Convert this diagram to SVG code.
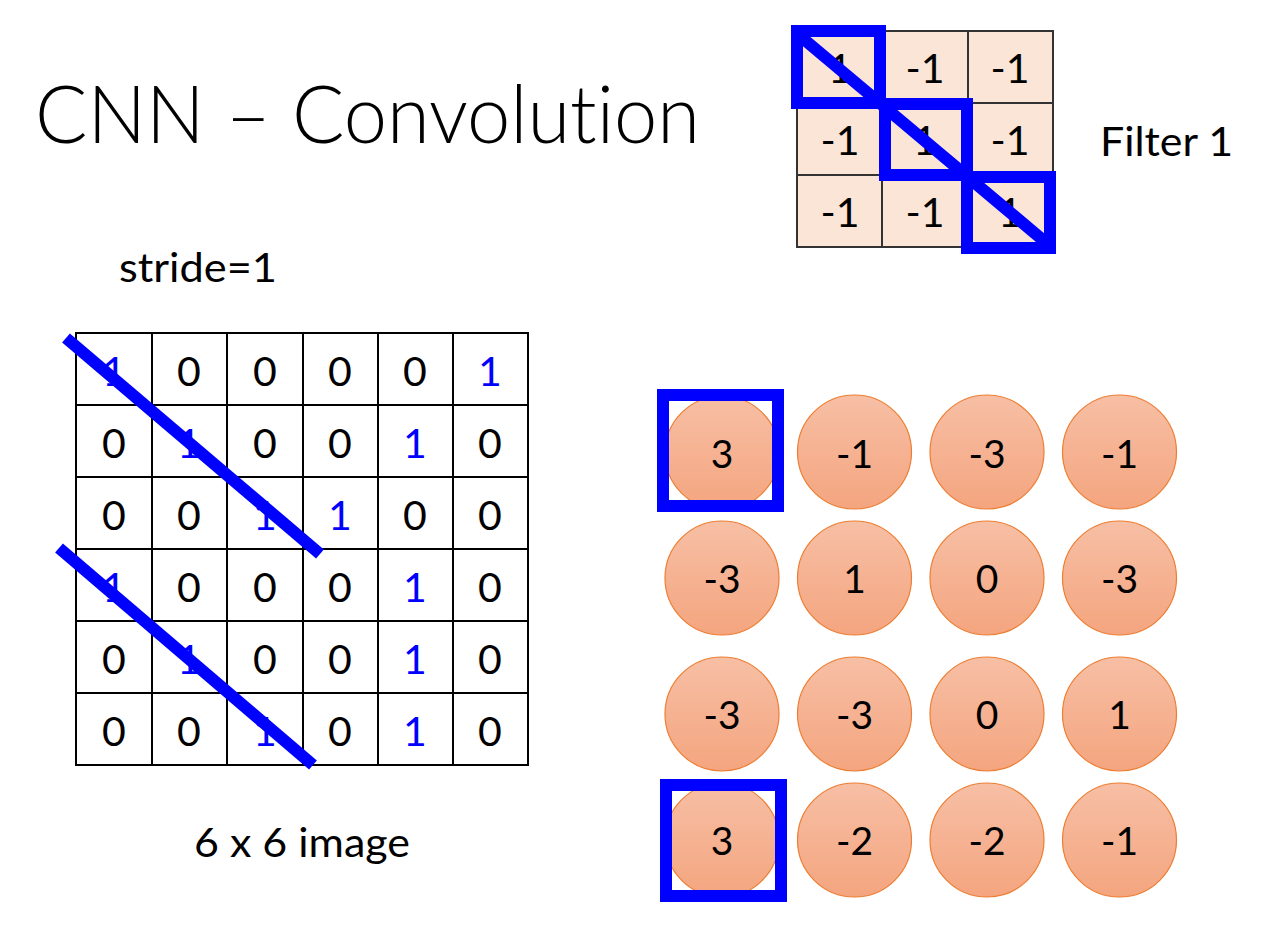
<svg xmlns="http://www.w3.org/2000/svg" width="1272" height="936" viewBox="0 0 1272 936">
<defs>
<linearGradient id="cg" x1="0" y1="0" x2="0" y2="1">
<stop offset="0" stop-color="#F7BFA5"/>
<stop offset="1" stop-color="#F4A57F"/>
</linearGradient>
</defs>
<style>
text{font-family:Lato,"Liberation Sans",sans-serif;text-anchor:middle;fill:#000;font-variant-ligatures:none;font-feature-settings:"liga" 0}
.title{font-weight:300;font-size:80px;text-anchor:start}
.lbl{font-size:41px;text-anchor:start}
.n{font-size:41px}
.b{fill:#0000FF}
.c{font-size:39px}
.cell{stroke:#000;stroke-width:2;fill:#fff}
.fcell{stroke:#333;stroke-width:2;fill:#FBE5D6}
.circ{fill:url(#cg);stroke:#ED7D31;stroke-width:1.2}
.hl{fill:none;stroke:#0000FF;stroke-width:12}
.diag{stroke:#0000FF;stroke-width:12}
</style>
<rect width="1272" height="936" fill="#fff"/>
<g id="title"><text class="title" x="35" y="143" textLength="665" lengthAdjust="spacingAndGlyphs">CNN – Convolution</text></g>
<g id="stride"><text class="lbl" x="119" y="282" textLength="158" lengthAdjust="spacingAndGlyphs">stride=1</text></g>
<g id="filterlabel"><text class="lbl" x="1100" y="156" textLength="133" lengthAdjust="spacingAndGlyphs">Filter 1</text></g>
<g id="imagelabel"><text class="lbl" x="194" y="857" textLength="216" lengthAdjust="spacingAndGlyphs">6 x 6 image</text></g>

<g id="filter">
<rect class="fcell" x="797" y="31" width="85" height="72"/>
<rect class="fcell" x="882" y="31" width="86" height="72"/>
<rect class="fcell" x="968" y="31" width="85" height="72"/>
<rect class="fcell" x="797" y="103" width="85" height="72"/>
<rect class="fcell" x="882" y="103" width="86" height="72"/>
<rect class="fcell" x="968" y="103" width="85" height="72"/>
<rect class="fcell" x="797" y="175" width="85" height="72"/>
<rect class="fcell" x="882" y="175" width="86" height="72"/>
<rect class="fcell" x="968" y="175" width="85" height="72"/>
<text class="n" x="840" y="83">1</text><text class="n" x="925" y="83">-1</text><text class="n" x="1010" y="83">-1</text>
<text class="n" x="840" y="155">-1</text><text class="n" x="925" y="155">1</text><text class="n" x="1010" y="155">-1</text>
<text class="n" x="840" y="227">-1</text><text class="n" x="925" y="227">-1</text><text class="n" x="1010" y="227">1</text>
<rect class="hl" x="797" y="31" width="83" height="72"/>
<rect class="hl" x="885" y="104" width="82" height="71"/>
<rect class="hl" x="967" y="177" width="83" height="71"/>
<line class="diag" x1="800" y1="36" x2="1050" y2="246"/>
</g>

<g id="image">
<g>
<rect class="cell" x="76" y="333" width="452" height="432"/>
<path d="M152 333V765M227 333V765M303 333V765M378 333V765M453 333V765M76 405H528M76 477H528M76 549H528M76 621H528M76 693H528" stroke="#000" stroke-width="2" fill="none"/>
</g>
<g>
<text class="n b" x="114" y="386">1</text><text class="n" x="189" y="386">0</text><text class="n" x="265" y="386">0</text><text class="n" x="340" y="386">0</text><text class="n" x="415" y="386">0</text><text class="n b" x="490" y="386">1</text>
<text class="n" x="114" y="458">0</text><text class="n b" x="189" y="458">1</text><text class="n" x="265" y="458">0</text><text class="n" x="340" y="458">0</text><text class="n b" x="415" y="458">1</text><text class="n" x="490" y="458">0</text>
<text class="n" x="114" y="530">0</text><text class="n" x="189" y="530">0</text><text class="n b" x="265" y="530">1</text><text class="n b" x="340" y="530">1</text><text class="n" x="415" y="530">0</text><text class="n" x="490" y="530">0</text>
<text class="n b" x="114" y="602">1</text><text class="n" x="189" y="602">0</text><text class="n" x="265" y="602">0</text><text class="n" x="340" y="602">0</text><text class="n b" x="415" y="602">1</text><text class="n" x="490" y="602">0</text>
<text class="n" x="114" y="674">0</text><text class="n b" x="189" y="674">1</text><text class="n" x="265" y="674">0</text><text class="n" x="340" y="674">0</text><text class="n b" x="415" y="674">1</text><text class="n" x="490" y="674">0</text>
<text class="n" x="114" y="746">0</text><text class="n" x="189" y="746">0</text><text class="n b" x="265" y="746">1</text><text class="n" x="340" y="746">0</text><text class="n b" x="415" y="746">1</text><text class="n" x="490" y="746">0</text>
</g>
</g>

<g id="connectors">
<line class="diag" x1="66" y1="338" x2="320" y2="554"/>
<line class="diag" x1="59" y1="548" x2="313" y2="765"/>
</g>

<g id="featuremap">
<g id="r1">
<circle class="circ" cx="722" cy="453" r="57"/><text class="c" x="722" y="468">3</text>
<circle class="circ" cx="854.5" cy="452" r="57"/><text class="c" x="854.5" y="468">-1</text>
<circle class="circ" cx="987" cy="452" r="57"/><text class="c" x="987" y="468">-3</text>
<circle class="circ" cx="1119.5" cy="452" r="57"/><text class="c" x="1119.5" y="468">-1</text>
</g>
<g id="r2">
<circle class="circ" cx="722" cy="578" r="57"/><text class="c" x="722" y="593">-3</text>
<circle class="circ" cx="854.5" cy="578" r="57"/><text class="c" x="854.5" y="593">1</text>
<circle class="circ" cx="987" cy="578" r="57"/><text class="c" x="987" y="593">0</text>
<circle class="circ" cx="1119.5" cy="578" r="57"/><text class="c" x="1119.5" y="593">-3</text>
</g>
<g id="r3">
<circle class="circ" cx="722" cy="714" r="57"/><text class="c" x="722" y="729">-3</text>
<circle class="circ" cx="854.5" cy="714" r="57"/><text class="c" x="854.5" y="729">-3</text>
<circle class="circ" cx="987" cy="714" r="57"/><text class="c" x="987" y="729">0</text>
<circle class="circ" cx="1119.5" cy="714" r="57"/><text class="c" x="1119.5" y="729">1</text>
</g>
<g id="r4">
<circle class="circ" cx="722" cy="840" r="57"/><text class="c" x="722" y="855">3</text>
<circle class="circ" cx="854.5" cy="840" r="57"/><text class="c" x="854.5" y="855">-2</text>
<circle class="circ" cx="987" cy="840" r="57"/><text class="c" x="987" y="855">-2</text>
<circle class="circ" cx="1119.5" cy="840" r="57"/><text class="c" x="1119.5" y="855">-1</text>
</g>
<rect class="hl" x="663" y="395" width="115" height="111"/>
<rect class="hl" x="666" y="785" width="115" height="111"/>
</g>
</svg>
